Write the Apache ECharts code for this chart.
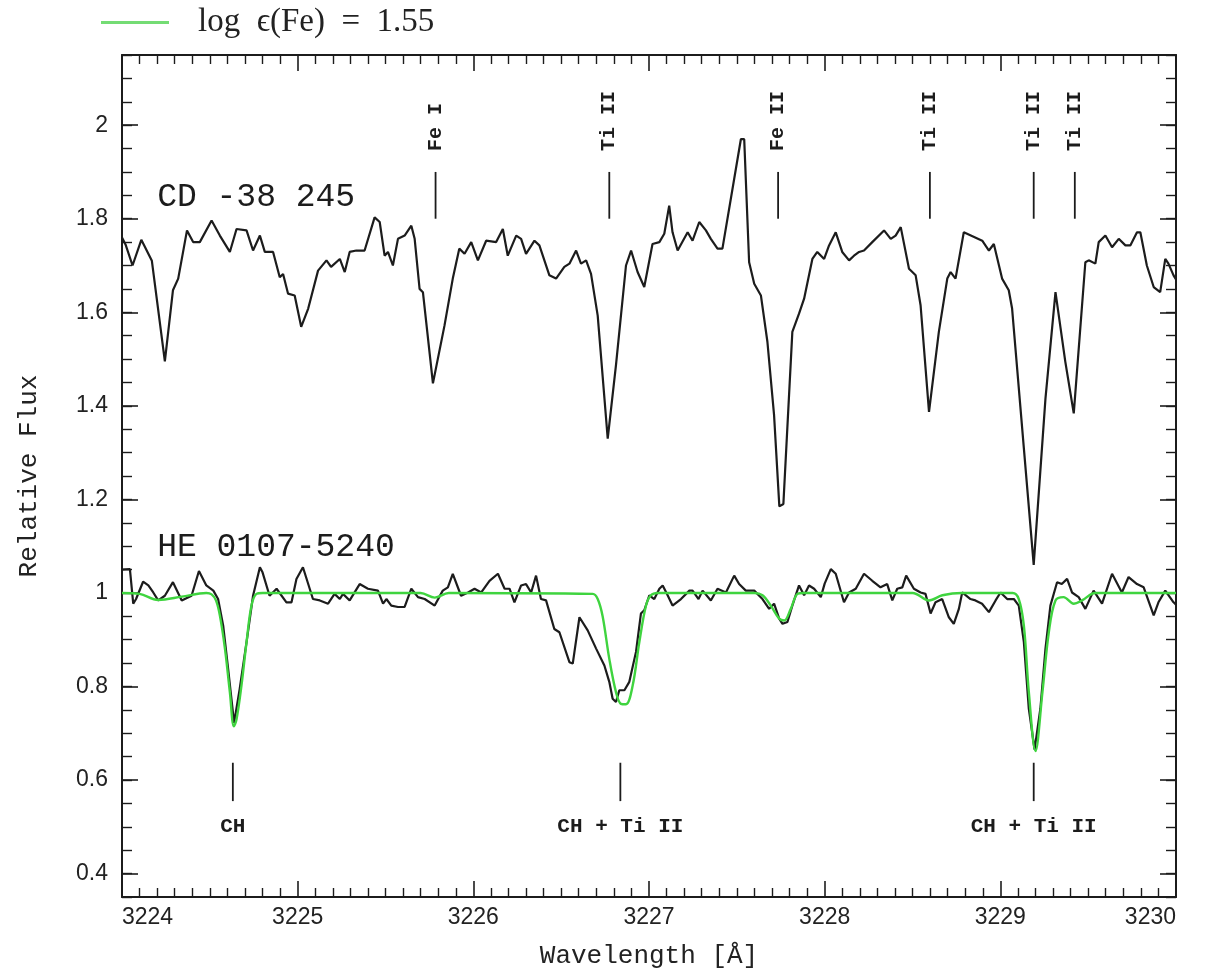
<!DOCTYPE html>
<html>
<head>
<meta charset="utf-8">
<script src="https://cdn.jsdelivr.net/npm/echarts@6/dist/echarts.min.js"></script>
<style>
  html, body { margin: 0; padding: 0; background: #fff; }
  #chart { width: 1213px; height: 976px; }
</style>
</head>
<body>
<div id="chart"></div>
<script>
// Observed spectrum of CD -38 245 (offset upward by 0.7 for display)
const waveCD = [
  3224.00, 3224.02, 3224.06, 3224.11, 3224.17, 3224.244, 3224.29, 3224.32, 3224.37, 3224.405,
  3224.443, 3224.51, 3224.557, 3224.614, 3224.652, 3224.709, 3224.746, 3224.785, 3224.813, 3224.86,
  3224.898, 3224.917, 3224.945, 3224.983, 3225.02, 3225.06, 3225.116, 3225.164, 3225.19, 3225.24,
  3225.268, 3225.296, 3225.334, 3225.381, 3225.438, 3225.467, 3225.495, 3225.514, 3225.542, 3225.571,
  3225.609, 3225.647, 3225.666, 3225.694, 3225.713, 3225.77, 3225.836, 3225.883, 3225.92, 3225.95,
  3225.988, 3226.026, 3226.073, 3226.13, 3226.168, 3226.196, 3226.244, 3226.272, 3226.30, 3226.348,
  3226.376, 3226.433, 3226.471, 3226.518, 3226.547, 3226.585, 3226.613, 3226.642, 3226.67, 3226.708,
  3226.765, 3226.812, 3226.869, 3226.898, 3226.935, 3226.973, 3227.02, 3227.059, 3227.087, 3227.115,
  3227.134, 3227.163, 3227.22, 3227.248, 3227.286, 3227.324, 3227.352, 3227.39, 3227.418, 3227.523,
  3227.542, 3227.57, 3227.599, 3227.637, 3227.674, 3227.712, 3227.742, 3227.765, 3227.816, 3227.854,
  3227.883, 3227.93, 3227.958, 3227.997, 3228.025, 3228.063, 3228.10, 3228.139, 3228.167, 3228.196,
  3228.224, 3228.271, 3228.338, 3228.376, 3228.404, 3228.433, 3228.48, 3228.518, 3228.546, 3228.594,
  3228.65, 3228.698, 3228.717, 3228.745, 3228.792, 3228.897, 3228.935, 3228.963, 3229.01, 3229.048,
  3229.067, 3229.134, 3229.19, 3229.257, 3229.314, 3229.37, 3229.418, 3229.484, 3229.503, 3229.541,
  3229.56, 3229.598, 3229.636, 3229.674, 3229.712, 3229.74, 3229.778, 3229.797, 3229.834, 3229.873,
  3229.91, 3229.939, 3229.957, 3229.986, 3230.00
];
const fluxCD = [
  1.76, 1.745, 1.70, 1.755, 1.71, 1.495, 1.647, 1.672, 1.775, 1.75,
  1.75, 1.796, 1.764, 1.729, 1.778, 1.775, 1.732, 1.764, 1.729, 1.729,
  1.675, 1.682, 1.64, 1.636, 1.569, 1.608, 1.689, 1.711, 1.697, 1.714,
  1.686, 1.729, 1.732, 1.732, 1.803, 1.793, 1.721, 1.729, 1.70, 1.757,
  1.764, 1.785, 1.757, 1.65, 1.643, 1.448, 1.572, 1.672, 1.736, 1.725,
  1.75, 1.711, 1.753, 1.75, 1.778, 1.721, 1.764, 1.757, 1.725, 1.753,
  1.743, 1.679, 1.672, 1.697, 1.704, 1.732, 1.704, 1.711, 1.682, 1.593,
  1.33, 1.487, 1.70, 1.732, 1.686, 1.654, 1.746, 1.75, 1.768, 1.828,
  1.771, 1.732, 1.771, 1.753, 1.793, 1.775, 1.757, 1.736, 1.736, 1.97,
  1.97, 1.707, 1.661, 1.636, 1.537, 1.38, 1.185, 1.19, 1.558, 1.597,
  1.629, 1.714, 1.729, 1.714, 1.743, 1.771, 1.729, 1.711, 1.721, 1.729,
  1.732, 1.75, 1.775, 1.757, 1.764, 1.782, 1.693, 1.679, 1.615, 1.387,
  1.558, 1.672, 1.686, 1.672, 1.771, 1.753, 1.732, 1.746, 1.672, 1.647,
  1.608, 1.309, 1.06, 1.416, 1.643, 1.494, 1.384, 1.707, 1.711, 1.704,
  1.75, 1.764, 1.739, 1.757, 1.743, 1.743, 1.771, 1.771, 1.70, 1.654,
  1.643, 1.714, 1.704, 1.679, 1.67
];

// Observed spectrum of HE 0107-5240
const waveHE = [
  3224.00, 3224.045, 3224.064, 3224.08, 3224.12, 3224.15, 3224.178, 3224.206, 3224.244, 3224.29,
  3224.34, 3224.396, 3224.438, 3224.48, 3224.52, 3224.547, 3224.576, 3224.604, 3224.638, 3224.67,
  3224.709, 3224.746, 3224.785, 3224.80, 3224.84, 3224.88, 3224.936, 3224.965, 3224.993, 3225.03,
  3225.087, 3225.126, 3225.173, 3225.21, 3225.24, 3225.258, 3225.296, 3225.353, 3225.40, 3225.457,
  3225.486, 3225.505, 3225.533, 3225.571, 3225.609, 3225.647, 3225.685, 3225.723, 3225.78, 3225.826,
  3225.855, 3225.883, 3225.93, 3225.97, 3226.007, 3226.045, 3226.092, 3226.14, 3226.178, 3226.206,
  3226.234, 3226.272, 3226.30, 3226.329, 3226.357, 3226.385, 3226.414, 3226.461, 3226.49, 3226.547,
  3226.566, 3226.604, 3226.651, 3226.699, 3226.746, 3226.774, 3226.793, 3226.812, 3226.831, 3226.86,
  3226.888, 3226.926, 3226.954, 3226.973, 3227.002, 3227.03, 3227.059, 3227.078, 3227.106, 3227.134,
  3227.182, 3227.23, 3227.248, 3227.282, 3227.305, 3227.352, 3227.39, 3227.438, 3227.485, 3227.513,
  3227.551, 3227.599, 3227.646, 3227.684, 3227.712, 3227.741, 3227.76, 3227.788, 3227.816, 3227.854,
  3227.883, 3227.911, 3227.94, 3227.978, 3228.00, 3228.035, 3228.063, 3228.11, 3228.139, 3228.177,
  3228.224, 3228.271, 3228.318, 3228.356, 3228.385, 3228.413, 3228.442, 3228.464, 3228.508, 3228.546,
  3228.574, 3228.603, 3228.631, 3228.669, 3228.707, 3228.735, 3228.764, 3228.783, 3228.83, 3228.858,
  3228.896, 3228.935, 3228.973, 3229.001, 3229.039, 3229.077, 3229.105, 3229.134, 3229.162, 3229.195,
  3229.228, 3229.257, 3229.285, 3229.323, 3229.35, 3229.38, 3229.408, 3229.446, 3229.484, 3229.531,
  3229.579, 3229.636, 3229.692, 3229.73, 3229.778, 3229.816, 3229.873, 3229.90, 3229.939, 3229.986,
  3230.00
];
const fluxHE = [
  1.05, 1.051, 0.977, 0.987, 1.024, 1.016, 1.001, 0.984, 0.994, 1.023,
  0.984, 0.994, 1.047, 1.016, 1.005, 0.987, 0.93, 0.838, 0.722, 0.795,
  0.895, 0.994, 1.055, 1.044, 0.994, 1.009, 0.98, 0.98, 1.03, 1.055,
  0.987, 0.984, 0.977, 0.998, 0.987, 0.998, 0.984, 1.019, 1.009, 1.005,
  0.977, 0.987, 0.973, 0.97, 0.97, 1.009, 0.991, 0.987, 0.973, 1.005,
  1.012, 1.041, 0.994, 1.001, 1.009, 1.001, 1.026, 1.041, 1.009, 1.009,
  0.98, 1.016, 1.019, 1.001, 1.037, 0.987, 0.984, 0.923, 0.916, 0.852,
  0.849, 0.948, 0.92, 0.881, 0.845, 0.81, 0.774, 0.767, 0.792, 0.792,
  0.81, 0.874, 0.956, 0.963, 0.995, 0.987, 1.009, 1.016, 0.995, 0.973,
  0.987, 1.005, 1.005, 0.987, 1.005, 0.984, 1.009, 1.001, 1.037, 1.019,
  1.005, 1.005, 0.987, 0.966, 0.977, 0.945, 0.934, 0.938, 0.973, 1.016,
  0.995, 1.016, 1.009, 0.991, 1.02, 1.051, 1.041, 0.98, 1.001, 1.009,
  1.041, 1.026, 1.012, 1.019, 0.984, 1.009, 1.012, 1.037, 1.009, 1.001,
  0.998, 0.956, 0.98, 0.987, 0.948, 0.934, 0.966, 1.001, 0.987, 0.984,
  0.977, 0.959, 0.984, 1.001, 0.987, 0.987, 0.973, 0.895, 0.753, 0.665,
  0.753, 0.881, 0.973, 1.023, 1.019, 1.03, 1.001, 0.991, 0.966, 1.005,
  0.977, 1.041, 1.001, 1.034, 1.019, 1.012, 0.952, 0.98, 1.005, 0.98,
  0.975
];

// Synthetic spectrum, log eps(Fe) = 1.55
const waveSyn = [
  3224.00, 3224.10, 3224.206, 3224.34, 3224.48, 3224.51, 3224.535, 3224.557, 3224.586, 3224.614,
  3224.637, 3224.652, 3224.68, 3224.709, 3224.737, 3224.765, 3224.80, 3225.70, 3225.78, 3225.86,
  3226.68, 3226.708, 3226.736, 3226.774, 3226.812, 3226.84, 3226.869, 3226.907, 3226.945, 3226.983,
  3227.011, 3227.05, 3227.60, 3227.646, 3227.693, 3227.741, 3227.77, 3227.807, 3227.845, 3227.88,
  3228.50, 3228.594, 3228.67, 3228.78, 3229.07, 3229.105, 3229.134, 3229.162, 3229.20, 3229.24,
  3229.276, 3229.314, 3229.36, 3229.418, 3229.465, 3229.54, 3230.00
];
const fluxSyn = [
  1.0, 0.998, 0.985, 0.992, 1.0, 0.997, 0.984, 0.952, 0.881, 0.788,
  0.715, 0.73, 0.802, 0.895, 0.973, 0.998, 1.0, 1.0, 0.99, 1.0,
  0.998, 0.987, 0.95, 0.859, 0.788, 0.763, 0.762, 0.802, 0.895, 0.973,
  0.995, 1.0, 1.0, 0.995, 0.973, 0.945, 0.941, 0.966, 0.998, 1.0,
  1.0, 0.984, 0.995, 1.0, 1.0, 0.987, 0.93, 0.789, 0.662, 0.789,
  0.916, 0.984, 0.991, 0.977, 0.984, 1.0, 1.0
];

// Line identifications
const upperIds = ['Fe I', 'Ti II', 'Fe II', 'Ti II', 'Ti II', 'Ti II'];
const upperWave = [3225.785, 3226.774, 3227.735, 3228.599, 3229.19, 3229.424];
const lowerIds = ['CH', 'CH + Ti II', 'CH + Ti II'];
const lowerWave = [3224.631, 3226.837, 3229.19];

// Star names
const starNames = ['CD -38 245', 'HE 0107-5240'];
const starWave = [3224.2, 3224.2];
const starFlux = [1.846, 1.098];

// Axis ticks
const yMajor = [0.4, 0.6, 0.8, 1.0, 1.2, 1.4, 1.6, 1.8, 2.0];
const yMinor = [];
for (let k = 7; k <= 43; k++) yMinor.push(+(k * 0.05).toFixed(2));

const synName = 'log  \u03f5(Fe)  =  1.55';

const ink = '#1c1c1c';
const synColor = '#3fd43f';
const pair = (w, f) => w.map((v, i) => [v, f[i]]);

const chart = echarts.init(document.getElementById('chart'), null, { renderer: 'canvas' });

const baseX = {
  type: 'value', min: 3224, max: 3230, interval: 1,
  splitLine: { show: false },
  axisLine: { show: true, lineStyle: { color: ink, width: 2 } },
  axisTick: { show: true, inside: true, length: 16, lineStyle: { color: ink, width: 1.6 } },
  minorTick: { show: true, splitNumber: 10, length: 9, lineStyle: { color: ink, width: 1.4 } },
  minorSplitLine: { show: false }
};
const baseY = {
  type: 'value', min: 0.35, max: 2.15,
  splitLine: { show: false }
};

chart.setOption({
  animation: false,
  backgroundColor: '#fff',
  grid: { left: 122, right: 37, top: 55, bottom: 79, containLabel: false },
  legend: {
    data: [{ name: synName, icon: 'rect' }],
    left: 96, top: 1,
    itemWidth: 68, itemHeight: 3,
    itemStyle: { color: '#74dc74' },
    textStyle: { fontFamily: 'Liberation Serif', fontSize: 33, color: '#222', padding: [0, 0, 0, 24] }
  },
  xAxis: [
    Object.assign({}, baseX, {
      position: 'bottom',
      axisLabel: {
        show: true, margin: 9, fontFamily: 'Liberation Sans', fontSize: 23, color: '#222',
        alignMinLabel: 'left', alignMaxLabel: 'right',
        formatter: v => String(v)
      },
      name: 'Wavelength [\u00c5]', nameLocation: 'middle', nameGap: 46,
      nameTextStyle: { fontFamily: 'Liberation Mono', fontSize: 26, color: '#222' }
    }),
    Object.assign({}, baseX, { position: 'top', axisLabel: { show: false } })
  ],
  yAxis: [
    Object.assign({}, baseY, {
      position: 'left',
      axisLine: { show: true, lineStyle: { color: ink, width: 2 } },
      axisTick: { show: true, inside: true, length: 16, customValues: yMajor, lineStyle: { color: ink, width: 1.6 } },
      axisLabel: {
        show: true, margin: 14, customValues: yMajor,
        fontFamily: 'Liberation Sans', fontSize: 23, color: '#222',
        formatter: v => String(+v.toFixed(1))
      },
      name: 'Relative Flux', nameLocation: 'middle', nameGap: 80, nameRotate: 90,
      nameTextStyle: { fontFamily: 'Liberation Mono', fontSize: 26, color: '#222' }
    }),
    Object.assign({}, baseY, {
      position: 'left',
      axisLine: { show: false },
      axisTick: { show: true, inside: true, length: 10, customValues: yMinor, lineStyle: { color: ink, width: 1.4 } },
      axisLabel: { show: false }
    }),
    Object.assign({}, baseY, {
      position: 'right',
      axisLine: { show: true, lineStyle: { color: ink, width: 2 } },
      axisTick: { show: true, inside: true, length: 16, customValues: yMajor, lineStyle: { color: ink, width: 1.6 } },
      axisLabel: { show: false }
    }),
    Object.assign({}, baseY, {
      position: 'right',
      axisLine: { show: false },
      axisTick: { show: true, inside: true, length: 10, customValues: yMinor, lineStyle: { color: ink, width: 1.4 } },
      axisLabel: { show: false }
    })
  ],
  series: [
    {
      name: 'CD -38 245', type: 'line', data: pair(waveCD, fluxCD),
      showSymbol: false, symbol: 'none', clip: true,
      lineStyle: { color: ink, width: 2.2 }, z: 3
    },
    {
      name: 'HE 0107-5240', type: 'line', data: pair(waveHE, fluxHE),
      showSymbol: false, symbol: 'none', clip: true,
      lineStyle: { color: ink, width: 2.2 }, z: 3
    },
    {
      name: synName, type: 'line', data: pair(waveSyn, fluxSyn),
      showSymbol: false, symbol: 'none', clip: true, smooth: 0.35,
      itemStyle: { color: synColor },
      lineStyle: { color: synColor, width: 2.4 }, z: 4
    },
    {
      // upper identifications: tick mark plus rotated species label
      type: 'custom', silent: true, z: 5,
      data: upperWave.map(w => [w, 1.8]),
      renderItem: (params, api) => {
        const w = api.value(0);
        const a = api.coord([w, 1.8]);
        const b = api.coord([w, 1.9]);
        const t = api.coord([w, 1.945]);
        return {
          type: 'group', children: [
            { type: 'line', shape: { x1: a[0], y1: a[1], x2: b[0], y2: b[1] }, style: { stroke: ink, lineWidth: 1.8 } },
            {
              type: 'text', x: t[0], y: t[1], rotation: Math.PI / 2,
              style: {
                text: upperIds[params.dataIndex], fill: ink,
                font: 'bold 20px "Liberation Mono"', align: 'left', verticalAlign: 'middle'
              }
            }
          ]
        };
      }
    },
    {
      // lower identifications: tick mark plus label below
      type: 'custom', silent: true, z: 5,
      data: lowerWave.map(w => [w, 0.6]),
      renderItem: (params, api) => {
        const w = api.value(0);
        const a = api.coord([w, 0.555]);
        const b = api.coord([w, 0.637]);
        const t = api.coord([w, 0.501]);
        return {
          type: 'group', children: [
            { type: 'line', shape: { x1: a[0], y1: a[1], x2: b[0], y2: b[1] }, style: { stroke: ink, lineWidth: 1.8 } },
            {
              type: 'text', x: t[0], y: t[1],
              style: {
                text: lowerIds[params.dataIndex], fill: ink,
                font: 'bold 21px "Liberation Mono"', align: 'center', verticalAlign: 'middle'
              }
            }
          ]
        };
      }
    },
    {
      // star designations
      type: 'custom', silent: true, z: 5,
      data: starWave.map((w, i) => [w, starFlux[i]]),
      renderItem: (params, api) => {
        const p = api.coord([api.value(0), api.value(1)]);
        return {
          type: 'text', x: p[0], y: p[1],
          style: {
            text: starNames[params.dataIndex], fill: ink,
            font: '33px "Liberation Mono"', align: 'left', verticalAlign: 'middle'
          }
        };
      }
    }
  ]
});
</script>
</body>
</html>
